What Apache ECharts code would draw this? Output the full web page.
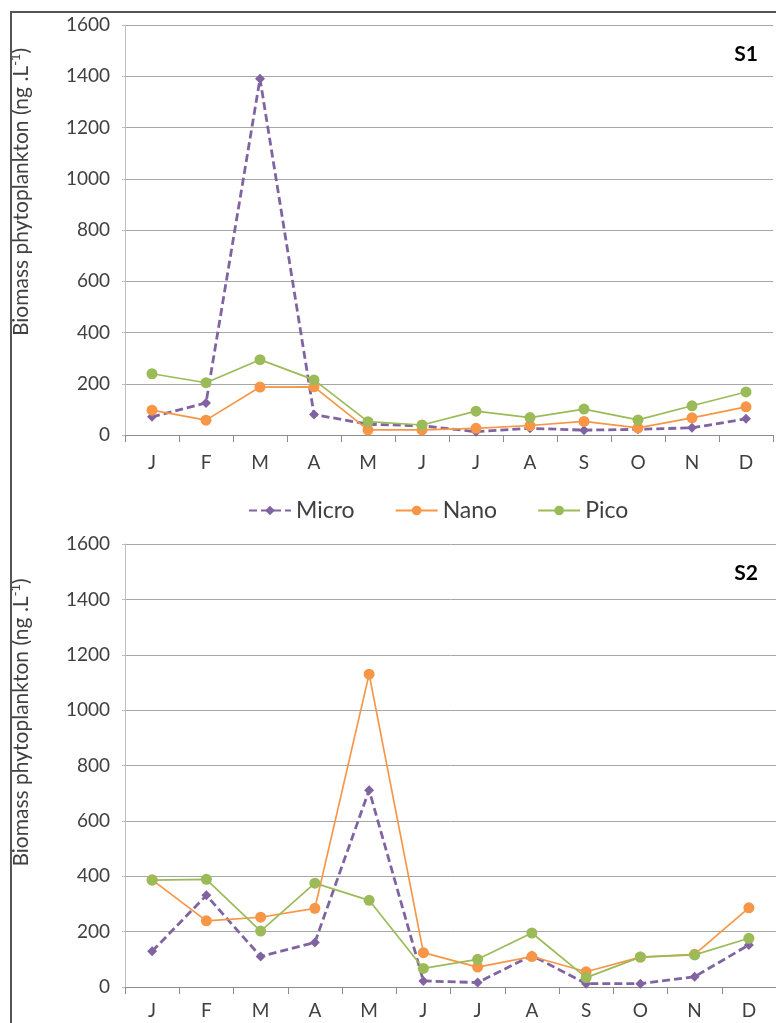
<!DOCTYPE html>
<html>
<head>
<meta charset="utf-8">
<script src="https://cdn.jsdelivr.net/npm/echarts@6/dist/echarts.min.js"></script>
<style>
  body { margin: 0; background: #fff; }
  #wrap { position: relative; width: 776px; height: 1023px; }
  #main { width: 776px; height: 1023px; }
  #frame {
    position: absolute; left: 10px; top: 11px; right: 0; bottom: 0;
    border-left: 2px solid #555; border-top: 2px solid #555;
    pointer-events: none;
  }
</style>
</head>
<body>
<div id="wrap">
  <div id="main"></div>
  <div id="frame"></div>
</div>
<script>
// months
const months = ['J', 'F', 'M', 'A', 'M', 'J', 'J', 'A', 'S', 'O', 'N', 'D']
const yTicks = [0, 1600, 200]  // min, max, step

// S1
const s1Micro = [71, 125, 1390, 80, 42, 36, 13, 26, 19, 22, 28, 63]
const s1Nano = [97, 58, 187, 188, 20, 20, 26, 37, 53, 28, 67, 110]
const s1Pico = [239, 204, 294, 215, 52, 39, 93, 68, 101, 59, 114, 168]

// S2
const s2Micro = [129, 331, 110, 161, 711, 22, 16, 114, 12, 12, 37, 152]
const s2Nano = [387, 239, 252, 284, 1130, 124, 72, 110, 55, 108, 118, 286]
const s2Pico = [386, 389, 202, 375, 313, 67, 100, 195, 34, 108, 116, 176]

const colors = { Micro: '#8064A2', Nano: '#F79646', Pico: '#9BBB59' }
const font = 'Lato, "Open Sans", sans-serif'

function xAxis(idx, margin) {
  return {
    type: 'category',
    gridIndex: idx,
    data: months,
    boundaryGap: true,
    axisLine: { lineStyle: { color: '#8c8c8c', width: 1 } },
    axisTick: { show: true, length: 7, lineStyle: { color: '#8c8c8c' } },
    axisLabel: { interval: 0, margin: margin, fontSize: 19, color: '#404040', fontFamily: font }
  }
}

function yAxis(idx, pad) {
  return {
    type: 'value',
    gridIndex: idx,
    min: yTicks[0],
    max: yTicks[1],
    interval: yTicks[2],
    name: '{t|Biomass phytoplankton (ng .L}{s|-1}{t|)}',
    nameLocation: 'middle',
    nameGap: 92,
    nameTextStyle: {
      padding: [0, 0, 0, pad],
      rich: {
        t: { fontSize: 21, color: '#404040', fontFamily: font, lineHeight: 24 },
        s: { fontSize: 13, color: '#404040', fontFamily: font, verticalAlign: 'top', lineHeight: 13 }
      }
    },
    axisLine: { show: true, lineStyle: { color: '#bfbfbf' } },
    axisTick: { show: true, length: 3, lineStyle: { color: '#bfbfbf' } },
    splitLine: { lineStyle: { color: '#a6a6a6', width: 1 } },
    axisLabel: {
      margin: 15, fontSize: 19, color: '#404040', fontFamily: font,
      formatter: function (v) { return String(v) }
    }
  }
}

function line(name, data, idx) {
  const micro = name === 'Micro'
  return {
    name: name,
    type: 'line',
    xAxisIndex: idx,
    yAxisIndex: idx,
    data: data,
    symbol: micro ? 'diamond' : 'circle',
    symbolSize: micro ? 10 : 11,
    color: colors[name],
    lineStyle: { width: micro ? 2.8 : 1.7, type: micro ? [8, 4] : 'solid', color: colors[name] },
    itemStyle: { color: colors[name] },
    animation: false
  }
}

const option = {
  animation: false,
  title: [
    { text: 'S1', right: 13, top: 39, textStyle: { fontSize: 21, fontWeight: 'bold', color: '#000', fontFamily: font } },
    { text: 'S2', right: 13, top: 558, textStyle: { fontSize: 21, fontWeight: 'bold', color: '#000', fontFamily: font } }
  ],
  legend: {
    data: ['Micro', 'Nano', 'Pico'],
    left: 243,
    top: 494,
    itemWidth: 42,
    itemHeight: 12,
    itemGap: 40,
    textStyle: { fontSize: 23, color: '#404040', fontFamily: font }
  },
  grid: [
    { left: 125, top: 25, width: 648, height: 410 },
    { left: 125, top: 544, width: 652, height: 443 }
  ],
  xAxis: [xAxis(0, 18), xAxis(1, 14)],
  yAxis: [yAxis(0, 76), yAxis(1, 86)],
  series: [
    line('Micro', s1Micro, 0),
    line('Nano', s1Nano, 0),
    line('Pico', s1Pico, 0),
    line('Micro', s2Micro, 1),
    line('Nano', s2Nano, 1),
    line('Pico', s2Pico, 1)
  ]
}

let chart = echarts.init(document.getElementById('main'))
chart.setOption(option)
</script>
</body>
</html>
